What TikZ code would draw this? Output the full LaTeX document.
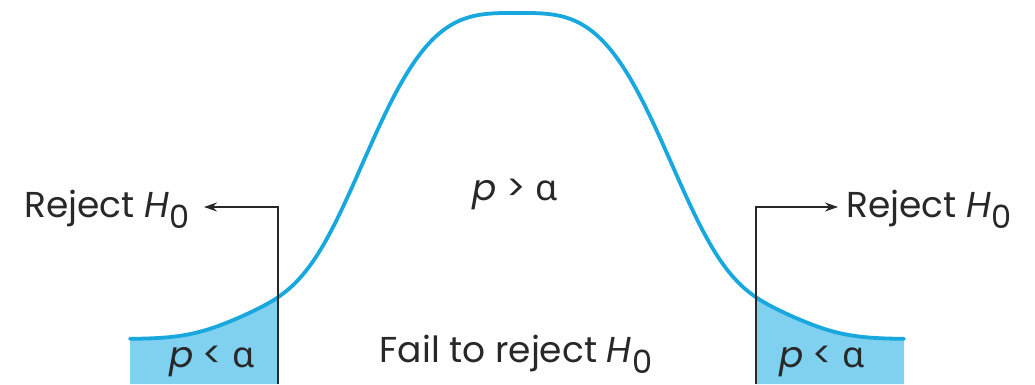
\documentclass[tikz,border=0pt]{standalone}
\usepackage{fontspec}
\setmainfont{Poppins}
\newfontfamily\grk{Noto Sans}
\usetikzlibrary{arrows.meta}
\definecolor{curveblue}{RGB}{24,168,222}
\definecolor{tailblue}{RGB}{128,208,240}
\definecolor{inkgray}{RGB}{40,40,40}
\newcommand{\hnull}{\textit{H}\kern0.5pt\raisebox{-11pt}{\fontsize{32}{32}\selectfont 0}}
\newcommand{\alp}{{\grk α}}
\begin{document}
\begin{tikzpicture}[x=1pt,y=1pt,
  declare function={dd(\t)=abs(\t-517)+0.01;
                    bellh(\t)=45+326*exp(-pow(dd(\t)/178,3.3))+20*exp(-((dd(\t)-255)/60)^2);},
  lbl/.style={inner sep=0pt, text=inkgray, font=\fontsize{36}{42}\selectfont},
  conn/.style={draw=inkgray, line width=1.3pt, -{Stealth[length=13pt,width=9pt]}},
  bell/.style={draw=curveblue, line width=3.8pt, line cap=round}]
\useasboundingbox (0,0) rectangle (1035,384);
% shaded tails
\begin{scope}
  \clip (130,0) rectangle (278,384);
  \fill[tailblue] plot[domain=130:904, samples=200, smooth] (\x,{bellh(\x)}) -- (904,0) -- (130,0) -- cycle;
\end{scope}
\begin{scope}
  \clip (756,0) rectangle (904,384);
  \fill[tailblue] plot[domain=130:904, samples=200, smooth] (\x,{bellh(\x)}) -- (904,0) -- (130,0) -- cycle;
\end{scope}
% curve
\draw[bell] plot[domain=130:904, samples=200, smooth] (\x,{bellh(\x)});
% labels
\node[lbl, anchor=base east] (rejl) at (190,167) {Reject \hnull};
\node[lbl, anchor=base west] (rejr) at (846,167) {Reject \hnull};
\node[lbl, anchor=base] (pgt) at (515,184) {\textit{p} > \alp};
\node[lbl, anchor=base] (fail) at (516,22) {Fail to reject \hnull};
\node[lbl, anchor=base] (pl) at (212,17) {\textit{p} < \alp};
\node[lbl, anchor=base] (pr) at (822,17) {\textit{p} < \alp};
% connectors
\coordinate (lb) at (278,0);
\coordinate (rb) at (756,0);
\coordinate (lt) at (204,177);
\coordinate (rt) at (838,177);
\draw[conn] (lb) |- (lt);
\draw[conn] (rb) |- (rt);
\end{tikzpicture}
\end{document}
